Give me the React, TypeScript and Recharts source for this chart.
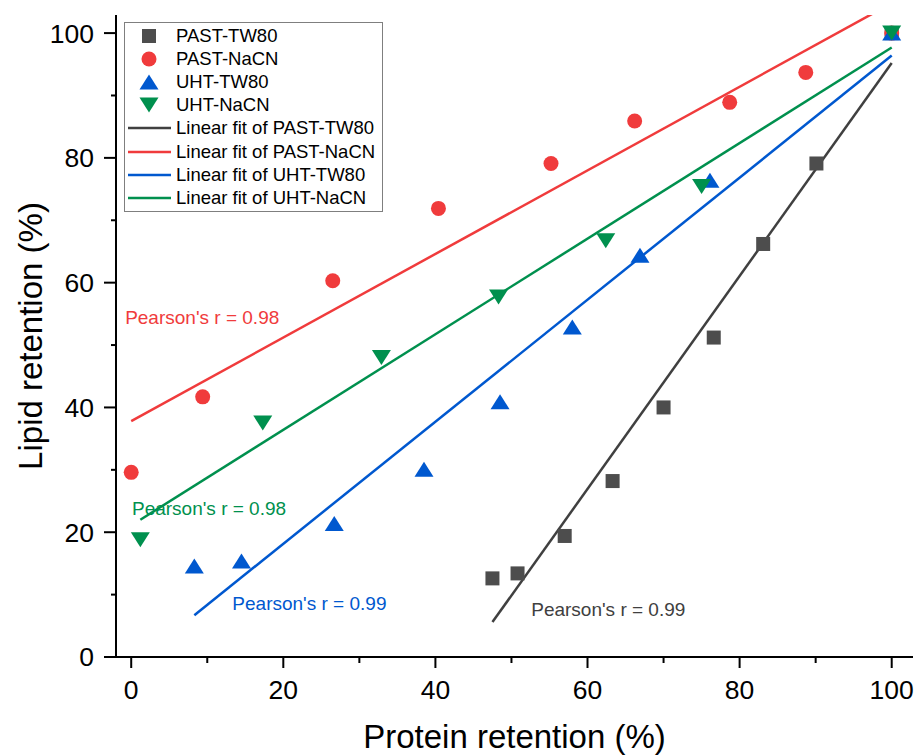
import React from "react"
import {
  ComposedChart,
  Scatter,
  Line,
  XAxis,
  YAxis,
  Legend,
  ReferenceDot,
  Label,
} from "recharts"

// measured points (protein retention %, lipid retention %)
const pastTw80 = [
  { x: 47.5, y: 12.6 },
  { x: 50.8, y: 13.4 },
  { x: 57.0, y: 19.4 },
  { x: 63.3, y: 28.2 },
  { x: 70.0, y: 40.0 },
  { x: 76.6, y: 51.2 },
  { x: 83.1, y: 66.2 },
  { x: 90.1, y: 79.1 },
  { x: 100, y: 100 },
]

const pastNacn = [
  { x: 0, y: 29.6 },
  { x: 9.4, y: 41.7 },
  { x: 26.5, y: 60.3 },
  { x: 40.4, y: 71.9 },
  { x: 55.2, y: 79.1 },
  { x: 66.2, y: 85.9 },
  { x: 78.7, y: 88.9 },
  { x: 88.7, y: 93.7 },
  { x: 100, y: 100 },
]

const uhtTw80 = [
  { x: 8.3, y: 14.6 },
  { x: 14.5, y: 15.4 },
  { x: 26.7, y: 21.4 },
  { x: 38.5, y: 30.1 },
  { x: 48.5, y: 40.9 },
  { x: 58.0, y: 52.9 },
  { x: 66.9, y: 64.4 },
  { x: 76.1, y: 76.4 },
  { x: 100, y: 100 },
]

const uhtNacn = [
  { x: 1.2, y: 18.8 },
  { x: 17.3, y: 37.5 },
  { x: 32.9, y: 48.0 },
  { x: 48.3, y: 57.7 },
  { x: 62.4, y: 66.7 },
  { x: 75.0, y: 75.4 },
  { x: 100, y: 100 },
]

// linear fit end points
const pastTw80Fit = [
  { x: 47.5, y: 5.6 },
  { x: 100, y: 95.2 },
]
const pastNacnFit = [
  { x: 0, y: 37.8 },
  { x: 100, y: 104.8 },
]
const uhtTw80Fit = [
  { x: 8.3, y: 6.7 },
  { x: 100, y: 96.4 },
]
const uhtNacnFit = [
  { x: 1.2, y: 22.0 },
  { x: 100, y: 97.7 },
]

const xTicks = [0, 10, 20, 30, 40, 50, 60, 70, 80, 90, 100]
const yTicks = [0, 10, 20, 30, 40, 50, 60, 70, 80, 90, 100]

const pearsonNotes = [
  { text: "Pearson's r = 0.98", x: -0.8, y: 54.5, color: "red" },
  { text: "Pearson's r = 0.98", x: 0.1, y: 23.9, color: "green" },
  { text: "Pearson's r = 0.99", x: 13.3, y: 8.6, color: "blue" },
  { text: "Pearson's r = 0.99", x: 52.6, y: 7.7, color: "grayLine" },
]

const COLORS: Record<string, string> = {
  gray: "#4d4d4d",
  grayLine: "#404040",
  red: "#f03b3c",
  blue: "#0058cf",
  green: "#00904e",
}

const FONT = "'Liberation Sans', Arial, sans-serif"

const Square = (props: any) => (
  <rect x={props.cx - 7} y={props.cy - 7} width={14} height={14} fill={COLORS.gray} />
)
const Circle = (props: any) => <circle cx={props.cx} cy={props.cy} r={7.5} fill={COLORS.red} />
const UpTriangle = (props: any) => {
  const { cx, cy } = props
  return (
    <polygon
      points={`${cx},${cy - 7.5} ${cx - 9.5},${cy + 7.5} ${cx + 9.5},${cy + 7.5}`}
      fill={COLORS.blue}
    />
  )
}
const DownTriangle = (props: any) => {
  const { cx, cy } = props
  return (
    <polygon
      points={`${cx - 9.5},${cy - 7.5} ${cx + 9.5},${cy - 7.5} ${cx},${cy + 7.5}`}
      fill={COLORS.green}
    />
  )
}

const XTick = ({ x, y, payload }: any) => {
  const major = payload.value % 20 === 0
  return (
    <g>
      <line x1={x} x2={x} y1={y} y2={y + (major ? 11 : 6)} stroke="#000" strokeWidth={2} />
      {major && (
        <text x={x} y={y + 33} dy="0.355em" textAnchor="middle" fontSize={26.5} fontFamily={FONT} fill="#000">
          {payload.value}
        </text>
      )}
    </g>
  )
}

const YTick = ({ x, y, payload }: any) => {
  const major = payload.value % 20 === 0
  return (
    <g>
      <line x1={x - (major ? 12 : 5)} x2={x} y1={y} y2={y} stroke="#000" strokeWidth={2} />
      {major && (
        <text x={x - 22} y={y} dy="0.355em" textAnchor="end" fontSize={26.5} fontFamily={FONT} fill="#000">
          {payload.value}
        </text>
      )}
    </g>
  )
}

const legendItems = [
  { label: "PAST-TW80", kind: "square", color: COLORS.gray },
  { label: "PAST-NaCN", kind: "circle", color: COLORS.red },
  { label: "UHT-TW80", kind: "up", color: COLORS.blue },
  { label: "UHT-NaCN", kind: "down", color: COLORS.green },
  { label: "Linear fit of PAST-TW80", kind: "line", color: COLORS.grayLine },
  { label: "Linear fit of PAST-NaCN", kind: "line", color: COLORS.red },
  { label: "Linear fit of UHT-TW80", kind: "line", color: COLORS.blue },
  { label: "Linear fit of UHT-NaCN", kind: "line", color: COLORS.green },
]

const LegendIcon = ({ kind, color }: { kind: string; color: string }) => (
  <svg width={48} height={20} style={{ display: "block" }}>
    {kind === "square" && <rect x={17} y={3} width={14} height={14} fill={color} />}
    {kind === "circle" && <circle cx={24} cy={10} r={7.5} fill={color} />}
    {kind === "up" && <polygon points="24,2.5 14.5,17.5 33.5,17.5" fill={color} />}
    {kind === "down" && <polygon points="14.5,2.5 33.5,2.5 24,17.5" fill={color} />}
    {kind === "line" && <line x1={3} x2={46} y1={10} y2={10} stroke={color} strokeWidth={2.5} />}
  </svg>
)

const renderLegend = () => (
  <div
    style={{
      border: "1px solid #7f7f7f",
      background: "#fff",
      width: 257,
      height: 187,
      paddingTop: 1,
      boxSizing: "content-box",
      fontFamily: FONT,
      fontSize: 18.5,
      color: "#000",
    }}
  >
    {legendItems.map((item) => (
      <div key={item.label} style={{ display: "flex", alignItems: "center", height: 23.2 }}>
        <LegendIcon kind={item.kind} color={item.color} />
        <span style={{ marginLeft: 3, whiteSpace: "nowrap" }}>{item.label}</span>
      </div>
    ))}
  </div>
)

export default function App() {
  return (
    <div style={{ position: "absolute", left: 0, top: 0, width: 914, height: 756, background: "#fff" }}>
      <ComposedChart width={914} height={756} margin={{ top: 15, right: 1, bottom: 0, left: 0 }}>
        <XAxis
          type="number"
          dataKey="x"
          domain={[-2, 102.8]}
          ticks={xTicks}
          interval={0}
          allowDataOverflow
          height={99}
          tickSize={0}
          tickMargin={0}
          tickLine={false}
          tick={<XTick />}
          axisLine={{ stroke: "#000", strokeWidth: 2 }}
        >
          <Label
            content={({ viewBox }: any) => (
              <text
                x={viewBox.x + viewBox.width / 2}
                y={viewBox.y + 79}
                dy="0.355em"
                textAnchor="middle"
                fontSize={33}
                fontFamily={FONT}
                fill="#000"
              >
                Protein retention (%)
              </text>
            )}
          />
        </XAxis>
        <YAxis
          type="number"
          dataKey="y"
          domain={[0, 102.9]}
          ticks={yTicks}
          interval={0}
          allowDataOverflow
          width={116}
          tickSize={0}
          tickMargin={0}
          tickLine={false}
          tick={<YTick />}
          axisLine={{ stroke: "#000", strokeWidth: 2 }}
        >
          <Label
            content={({ viewBox }: any) => {
              const cx = 30
              const cy = viewBox.y + viewBox.height / 2
              return (
                <text
                  x={cx}
                  y={cy}
                  dy="0.355em"
                  textAnchor="middle"
                  transform={`rotate(-90 ${cx} ${cy})`}
                  fontSize={33}
                  fontFamily={FONT}
                  fill="#000"
                >
                  Lipid retention (%)
                </text>
              )
            }}
          />
        </YAxis>
        <XAxis
          xAxisId="top"
          orientation="top"
          type="number"
          dataKey="x"
          domain={[-2, 102.8]}
          height={0}
          tick={false}
          tickLine={false}
          axisLine={{ stroke: "#222", strokeWidth: 2 }}
        />
        <YAxis
          yAxisId="right"
          orientation="right"
          type="number"
          domain={[0, 102.9]}
          width={0}
          tick={false}
          tickLine={false}
          axisLine={{ stroke: "#555", strokeWidth: 2 }}
        />

        <Line data={pastTw80Fit} dataKey="y" stroke={COLORS.grayLine} strokeWidth={2.5} dot={false} isAnimationActive={false} legendType="none" />
        <Line data={pastNacnFit} dataKey="y" stroke={COLORS.red} strokeWidth={2.5} dot={false} isAnimationActive={false} legendType="none" />
        <Line data={uhtTw80Fit} dataKey="y" stroke={COLORS.blue} strokeWidth={2.5} dot={false} isAnimationActive={false} legendType="none" />
        <Line data={uhtNacnFit} dataKey="y" stroke={COLORS.green} strokeWidth={2.5} dot={false} isAnimationActive={false} legendType="none" />

        <Scatter data={pastTw80} shape={Square} isAnimationActive={false} />
        <Scatter data={pastNacn} shape={Circle} isAnimationActive={false} />
        <Scatter data={uhtTw80} shape={UpTriangle} isAnimationActive={false} />
        <Scatter data={uhtNacn} shape={DownTriangle} isAnimationActive={false} />

        {pearsonNotes.map((n, i) => (
          <ReferenceDot
            key={i}
            x={n.x}
            y={n.y}
            r={0}
            ifOverflow="visible"
            shape={(p: any) => (
              <text x={p.cx} y={p.cy} dy="0.355em" fontSize={19} fontFamily={FONT} fill={COLORS[n.color]}>
                {n.text}
              </text>
            )}
          />
        ))}

        <Legend
          layout="vertical"
          align="center"
          verticalAlign="middle"
          content={renderLegend}
          wrapperStyle={{ top: 22, left: 124, width: 259, height: 189 }}
        />
      </ComposedChart>
    </div>
  )
}
